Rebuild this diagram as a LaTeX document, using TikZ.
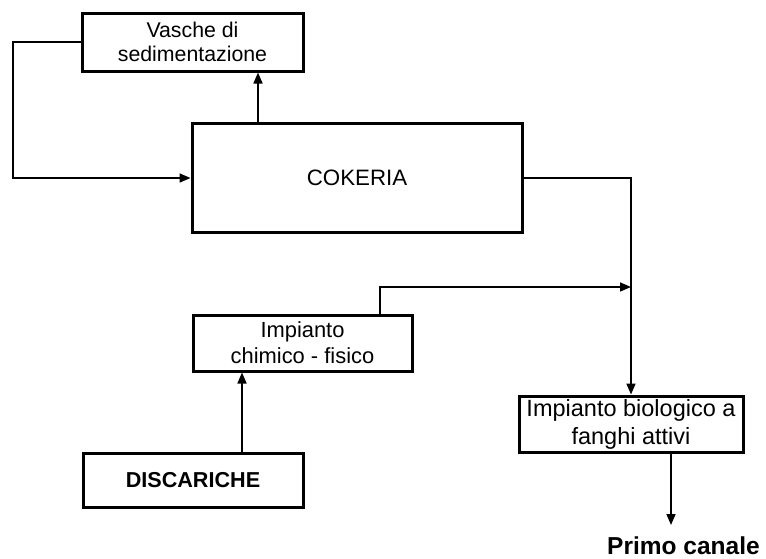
\documentclass[tikz,border=0pt]{standalone}
\usepackage{fontspec}
\setmainfont{Liberation Sans}
\usetikzlibrary{arrows.meta}
\begin{document}
\begin{tikzpicture}[x=1pt,y=-1pt,
  box/.style={draw=black,line width=3pt,align=center,inner sep=0pt},
  conn/.style={draw=black,line width=1.6pt},
  arr/.style={conn,-{Triangle[length=11pt,width=9pt]}}]
\useasboundingbox (0,0) rectangle (766,558);
\node[box,minimum width=221,minimum height=58,font=\fontsize{21.3}{24}\selectfont] (vasche) at (192.5,42) {Vasche di\\sedimentazione};
\node[box,minimum width=330,minimum height=109,font=\fontsize{22.3}{25}\selectfont] (cok) at (357,178) {COKERIA};
\node[box,minimum width=219,minimum height=56,font=\fontsize{21.9}{26}\selectfont] (chim) at (302.5,343) {Impianto\\chimico - fisico};
\node[box,minimum width=220,minimum height=54,font=\bfseries\fontsize{21.6}{25}\selectfont] (disc) at (193,480) {DISCARICHE};
\node[box,minimum width=224,minimum height=56,font=\fontsize{23.5}{28}\selectfont] (bio) at (631,424) {Impianto biologico a\\fanghi attivi};
\node[anchor=base west,inner sep=0pt,font=\bfseries\fontsize{24.5}{28}\selectfont] (primo) at (607,554.5) {Primo canale};
\coordinate (lft) at (13,42);
\coordinate (up) at (258,0);
\coordinate (rgt) at (631,178);
\coordinate (jn) at (631,287);
\coordinate (ch) at (380,0);
\coordinate (ds) at (242,0);
\coordinate (out) at (671,0);
\coordinate (outend) at (671,525);
\draw[arr] (vasche.west) -- (lft) |- (cok.west);
\draw[arr] (up |- cok.north) -- (up |- vasche.south);
\draw[arr] (cok.east) -- (rgt) -- (bio.north);
\draw[arr] (ch |- chim.north) |- (jn);
\draw[arr] (ds |- disc.north) -- (ds |- chim.south);
\draw[arr] (out |- bio.south) -- (outend);
\end{tikzpicture}
\end{document}
